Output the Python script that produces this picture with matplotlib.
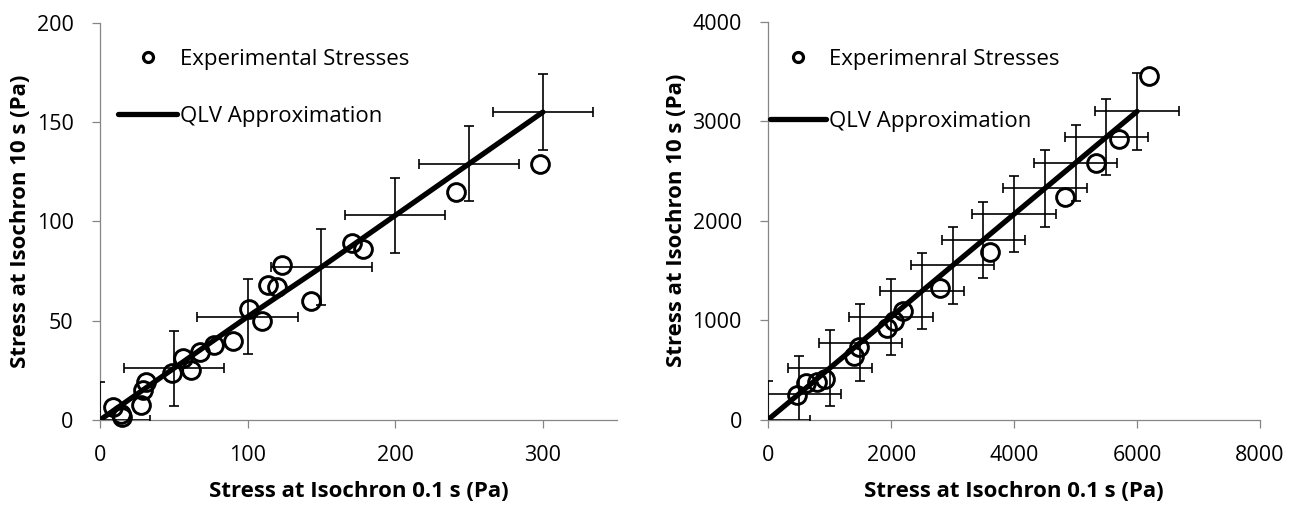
import matplotlib.pyplot as plt
from matplotlib.lines import Line2D

plt.rcParams['font.family'] = ['Open Sans', 'DejaVu Sans']

# left panel: experimental stresses (Pa)
left_exp_x = [298, 241, 171, 178, 123, 114, 120, 143, 101, 110, 90, 77, 68, 56, 62, 49, 31, 29, 28, 9, 14, 15]
left_exp_y = [129, 115, 89, 86, 78, 68, 67, 60, 56, 50, 40, 38, 34, 31, 25, 23.5, 19, 15, 7.5, 6.5, 3, 1.5]
# left panel: QLV approximation with error bars
left_qlv_x = [0, 50, 100, 150, 200, 250, 300]
left_qlv_y = [0, 26, 52, 77, 103, 129, 155]
left_xerr = 34
left_yerr = 19

# right panel
right_exp_x = [6200, 5710, 5330, 4835, 3610, 2786, 2190, 2040, 1930, 1470, 1390, 930, 790, 610, 467]
right_exp_y = [3460, 2820, 2580, 2240, 1690, 1325, 1090, 990, 920, 725, 640, 405, 380, 370, 246]
right_qlv_x = [0, 500, 1000, 1500, 2000, 2500, 3000, 3500, 4000, 4500, 5000, 5500, 6000]
right_qlv_y = [0, 258, 517, 775, 1033, 1292, 1550, 1808, 2067, 2325, 2583, 2842, 3100]
right_xerr = 680
right_yerr = 385

xlabel = "Stress at Isochron 0.1 s (Pa)"
ylabel = "Stress at Isochron 10 s (Pa)"
grey = "#868686"

fig = plt.figure(figsize=(13.03, 5.11), dpi=100)
ax1 = fig.add_axes([0.0767, 0.178, 0.3966, 0.7776])
ax2 = fig.add_axes([0.5896, 0.179, 0.3774, 0.778])


def draw(ax, ex, ey, qx, qy, xerr, yerr, xlim, ylim, xticks, yticks, exp_label,
         leg_xy, leg_len, leg_space):
    ax.plot(ex, ey, ls="none", marker="o", ms=12.8, mew=2.1, mfc="none", mec="black",
            clip_on=False, zorder=3)
    ax.errorbar(qx, qy, xerr=xerr, yerr=yerr, fmt="none", ecolor="black",
                elinewidth=1.2, capsize=3.6, capthick=1.2, zorder=2.6)
    ax.plot(qx, qy, color="black", lw=3.8, solid_capstyle="round", zorder=4)
    ax.set_xlim(*xlim)
    ax.set_ylim(*ylim)
    ax.set_xticks(xticks)
    ax.set_yticks(yticks)
    for s in ("top", "right"):
        ax.spines[s].set_visible(False)
    for s in ("left", "bottom"):
        ax.spines[s].set_color(grey)
        ax.spines[s].set_linewidth(0.9)
    ax.tick_params(axis="both", direction="out", length=6, width=0.9, color=grey,
                   labelsize=15.5, labelcolor="black")
    ax.tick_params(axis="x", pad=12)
    ax.tick_params(axis="y", pad=13)
    ax.set_xlabel(xlabel, fontsize=16, fontweight="bold", labelpad=11)
    ax.set_ylabel(ylabel, fontsize=16, fontweight="bold", labelpad=4)
    handles = [
        Line2D([], [], ls="none", marker="o", ms=7.2, mew=2.3, mfc="none", mec="black"),
        Line2D([], [], color="black", lw=3.8, solid_capstyle="round"),
    ]
    ax.legend(handles, [exp_label, "QLV Approximation"], loc="upper left",
              bbox_to_anchor=leg_xy, frameon=False, fontsize=16,
              handlelength=leg_len, handletextpad=0.14, labelspacing=leg_space,
              borderpad=0, borderaxespad=0)


draw(ax1, left_exp_x, left_exp_y, left_qlv_x, left_qlv_y, left_xerr, left_yerr,
     (0, 350), (0, 200), [0, 100, 200, 300], [0, 50, 100, 150, 200], "Experimental Stresses",
     (0.035, 0.934), 2.66, 1.62)
draw(ax2, right_exp_x, right_exp_y, right_qlv_x, right_qlv_y, right_xerr, right_yerr,
     (0, 8000), (0, 4000), [0, 2000, 4000, 6000, 8000], [0, 1000, 2000, 3000, 4000],
     "Experimenral Stresses", (0.004, 0.932), 2.5, 1.84)

fig.savefig("out.png", dpi=100)
